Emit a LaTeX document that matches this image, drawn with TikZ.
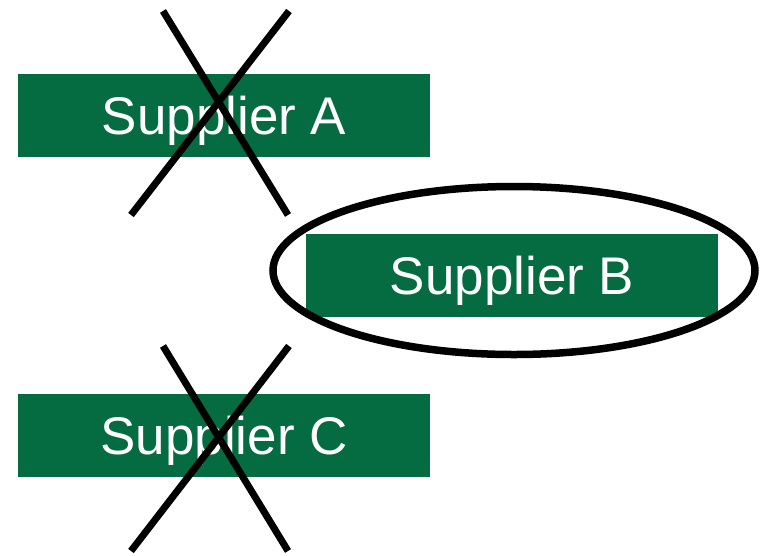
\documentclass[tikz,border=0pt]{standalone}
\usepackage{fontspec}
\setmainfont{Liberation Sans}
\usetikzlibrary{shapes.geometric}
\definecolor{supgreen}{HTML}{046C40}
\begin{document}
\begin{tikzpicture}[x=1pt,y=-1pt,
  supbox/.style={fill=supgreen, text=white, minimum width=412pt, minimum height=83pt,
    inner sep=0pt, text height=38pt, text depth=0pt, font=\fontsize{53}{60}\selectfont},
  crossline/.style={line width=7pt, black},
  ring/.style={draw=black, line width=7.5pt, ellipse, minimum width=482pt, minimum height=168pt, inner sep=0pt}]
  \useasboundingbox (0,0) rectangle (761,555);
  % supplier boxes
  \node[supbox] (A) at (224,115.5) {Supplier A};
  \node[supbox] (B) at (512,275.5) {Supplier B};
  \node[supbox] (C) at (224,435.5) {Supplier C};
  % ring around the chosen supplier
  \node[ring] (sel) at (514,270.5) {};
  % crossed-out suppliers
  \coordinate (a1) at (163,11);
  \coordinate (a2) at (288,215);
  \coordinate (a3) at (289,11);
  \coordinate (a4) at (131,215);
  \draw[crossline] (a1) -- (a2);
  \draw[crossline] (a3) -- (a4);
  \coordinate (c1) at (163,346);
  \coordinate (c2) at (288,551);
  \coordinate (c3) at (289,346);
  \coordinate (c4) at (131,551);
  \draw[crossline] (c1) -- (c2);
  \draw[crossline] (c3) -- (c4);
\end{tikzpicture}
\end{document}
